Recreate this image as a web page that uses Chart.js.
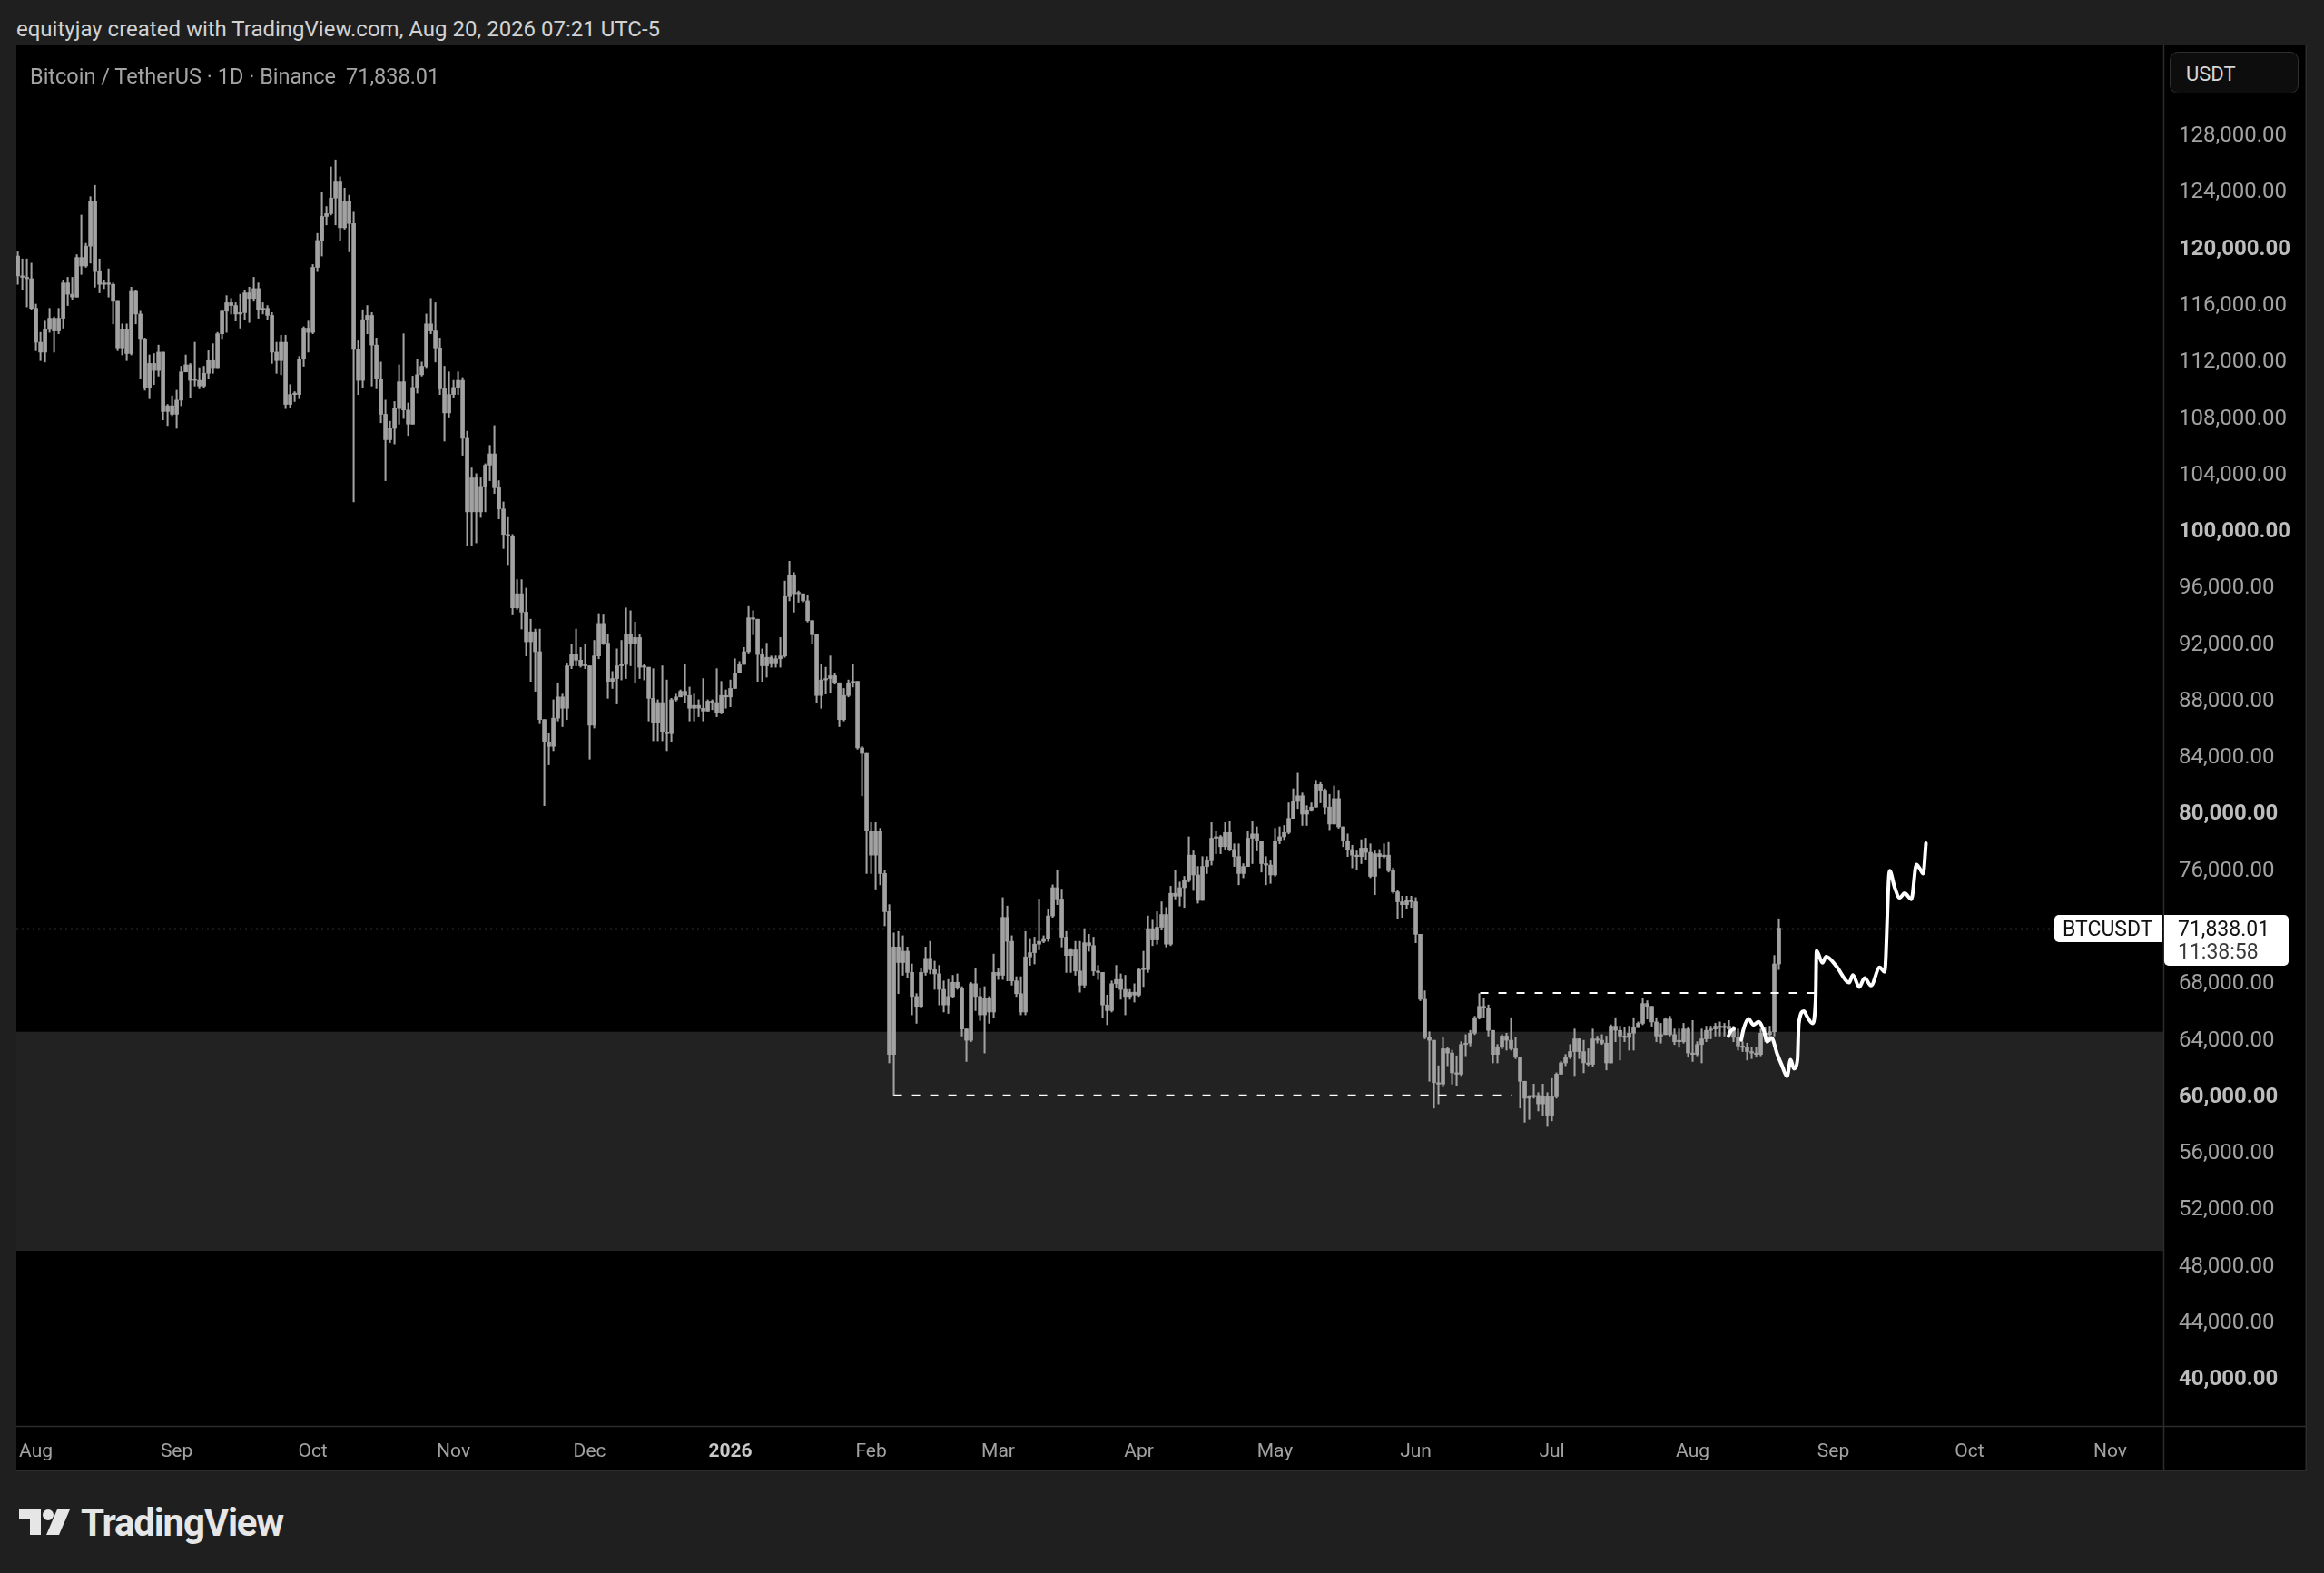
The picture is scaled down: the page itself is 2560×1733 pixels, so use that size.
<!DOCTYPE html>
<html>
<head>
<meta charset="utf-8">
<title>BTCUSDT 1D</title>
<script src="https://cdn.jsdelivr.net/npm/chart.js@4.4.1/dist/chart.umd.min.js"></script>
<style>
  html, body { margin: 0; padding: 0; width: 2560px; height: 1733px; overflow: hidden; background: #1f1f1f; font-family: Roboto, "Noto Sans", sans-serif; }
  #header { position: absolute; left: 18px; top: 18px; font-size: 24px; line-height: 28px; color: #d2d2d2; }
  #panel { position: absolute; left: 18px; top: 50px; width: 2523px; height: 1571px; background: #000; }
  #panel canvas { position: absolute; left: 0; top: 0; }
  #title { position: absolute; left: 33px; top: 70px; font-size: 23.5px; line-height: 28px; color: #a4a4a4; }
  #title .last { margin-left: 11px; }
  #unit { position: absolute; left: 2390px; top: 57px; width: 142px; height: 46px; box-sizing: border-box; border: 1px solid #2f2f2f; border-radius: 9px; background: #0d0d0d; color: #d6d6d6; font-size: 22px; line-height: 48px; padding-left: 17px; }
  #logo { position: absolute; left: 21px; top: 1659px; height: 36px; display: flex; align-items: center; gap: 10px; color: #e6e6e6; font-size: 42px; font-weight: 700; letter-spacing: -1.2px; }
</style>
</head>
<body>
<div id="header">equityjay created with TradingView.com, Aug 20, 2026 07:21 UTC-5</div>
<div id="panel"><canvas id="btc" width="2523" height="1571"></canvas></div>
<div id="title">Bitcoin / TetherUS · 1D · Binance<span class="last" id="lastTxt"></span></div>
<div id="unit">USDT</div>
<div id="logo">
  <svg width="58" height="28" viewBox="0 0 58 28"><path d="M0 0h24v28H12V11H0z" fill="#e6e6e6"/><circle cx="32" cy="6" r="6" fill="#e6e6e6"/><path d="M42 0h14L44 28H30z" fill="#e6e6e6"/></svg>
  <span>TradingView</span>
</div>
<script>
// daily candles, first one on 2025-07-28; prices in thousands of USDT
const firstCandleDate = '2025-07-28';
const firstOpenK = 119.4;
const closeK = [
  118.0, 117.9, 117.8, 115.7, 113.3, 112.6, 114.2, 115.0, 114.1, 115.0,
  117.5, 116.7, 116.5, 119.3, 118.7, 120.1, 123.3, 118.3, 117.4, 117.5,
  117.4, 116.2, 112.9, 114.2, 112.5, 116.9, 115.3, 113.5, 110.1, 111.8,
  111.3, 112.6, 108.4, 108.8, 108.2, 109.2, 111.2, 111.7, 110.6, 110.6,
  110.2, 111.1, 112.0, 111.5, 113.9, 115.5, 116.1, 115.9, 115.3, 115.4,
  116.8, 116.4, 117.1, 115.6, 115.7, 115.2, 112.6, 112.0, 113.3, 108.9,
  109.6, 109.6, 112.1, 114.3, 114.0, 118.6, 120.5, 122.2, 122.4, 123.5,
  124.7, 121.4, 123.3, 121.7, 112.8, 110.6, 114.9, 115.2, 113.1, 110.7,
  108.2, 106.4, 107.2, 108.6, 110.5, 108.5, 107.5, 110.1, 111.0, 111.6,
  114.6, 114.1, 112.9, 110.0, 108.3, 109.6, 110.1, 110.6, 106.5, 101.3,
  103.7, 101.3, 103.1, 104.6, 105.4, 103.0, 101.5, 99.7, 99.6, 94.5,
  95.5, 94.2, 92.1, 92.8, 91.4, 86.6, 85.0, 84.7, 86.7, 88.2,
  87.4, 90.4, 91.2, 90.8, 90.4, 90.4, 86.2, 91.1, 93.4, 92.0,
  89.3, 89.5, 90.4, 90.5, 92.6, 92.0, 92.4, 90.3, 90.3, 88.1,
  86.4, 87.8, 85.7, 85.6, 88.0, 88.2, 88.6, 88.3, 87.4, 87.6,
  87.4, 87.2, 87.9, 87.8, 87.1, 88.3, 88.2, 88.8, 89.9, 90.5,
  91.4, 93.8, 93.7, 91.2, 90.4, 91.0, 90.6, 90.9, 91.1, 95.3,
  96.8, 95.5, 95.5, 95.0, 93.6, 92.6, 88.3, 89.4, 89.5, 89.7,
  89.2, 86.6, 88.3, 89.2, 89.3, 84.6, 84.2, 78.7, 77.0, 78.7,
  75.7, 73.0, 62.9, 70.5, 69.4, 70.2, 68.7, 67.0, 66.3, 68.7,
  69.7, 68.9, 68.6, 67.5, 66.4, 67.0, 68.0, 67.6, 64.7, 63.9,
  67.9, 67.0, 65.7, 66.9, 65.9, 68.7, 68.5, 72.6, 70.9, 68.1,
  67.2, 65.9, 69.8, 70.1, 70.7, 70.9, 71.1, 72.7, 74.7, 73.9,
  71.2, 69.9, 70.3, 68.8, 67.8, 70.8, 70.6, 68.8, 68.7, 66.4,
  66.0, 67.9, 68.2, 67.5, 67.0, 67.3, 67.1, 68.9, 68.9, 71.8,
  71.0, 71.9, 72.8, 70.7, 74.3, 74.1, 74.7, 75.2, 77.0, 75.6,
  73.8, 76.2, 76.6, 78.2, 78.3, 77.6, 78.6, 77.4, 76.9, 75.7,
  76.2, 78.2, 78.5, 78.0, 76.4, 76.3, 75.6, 78.0, 78.3, 78.6,
  79.6, 80.8, 81.2, 79.9, 80.2, 80.4, 82.0, 81.6, 80.4, 79.2,
  81.0, 79.0, 78.0, 77.4, 77.0, 76.9, 77.5, 77.2, 75.5, 77.1,
  76.9, 77.0, 75.9, 74.4, 73.7, 73.5, 73.8, 73.7, 71.4, 66.8,
  64.1, 63.9, 60.9, 60.8, 63.3, 63.0, 61.6, 61.5, 63.6, 63.7,
  64.4, 65.5, 66.3, 66.2, 64.6, 62.9, 63.4, 64.2, 63.9, 63.3,
  62.7, 61.0, 59.8, 59.9, 60.0, 59.4, 59.9, 58.6, 59.9, 61.5,
  62.3, 62.7, 63.1, 64.0, 63.1, 62.3, 62.2, 64.0, 63.9, 63.7,
  62.3, 64.9, 64.6, 64.2, 64.1, 64.4, 64.8, 65.1, 66.5, 66.3,
  65.2, 64.2, 64.3, 65.4, 64.3, 63.8, 63.8, 64.7, 63.0, 62.9,
  63.6, 64.0, 64.6, 64.7, 64.9, 64.8, 64.9, 64.7, 64.1, 63.5,
  63.4, 63.1, 63.0, 62.9, 64.4, 64.3, 64.5, 69.3, 71.83801
];
const highK = [
  119.7, 119.2, 119.2, 118.9, 116.0, 114.0, 114.8, 115.7, 115.1, 115.7,
  117.7, 117.9, 117.9, 119.5, 122.3, 120.3, 123.6, 124.4, 119.2, 117.7,
  118.5, 117.5, 116.0, 114.6, 114.6, 117.2, 117.0, 115.5, 113.6, 112.4,
  112.5, 113.1, 112.6, 108.9, 109.5, 109.9, 111.6, 112.4, 111.8, 113.3,
  111.5, 111.6, 112.7, 113.2, 114.0, 115.6, 116.6, 116.4, 116.1, 116.7,
  117.0, 117.2, 117.9, 117.5, 116.1, 115.9, 115.4, 113.3, 113.8, 113.8,
  110.3, 109.8, 112.3, 114.4, 114.8, 118.8, 121.0, 123.9, 122.9, 125.7,
  126.2, 125.0, 124.2, 123.7, 122.5, 113.4, 115.6, 115.9, 115.4, 113.6,
  111.9, 109.2, 107.7, 109.1, 111.7, 113.9, 109.0, 110.9, 112.1, 111.9,
  115.3, 116.4, 116.1, 113.6, 111.6, 111.2, 110.6, 111.2, 110.8, 107.0,
  104.4, 104.0, 103.7, 104.7, 106.0, 107.4, 103.5, 102.0, 100.9, 99.7,
  96.5, 96.5, 95.9, 93.7, 93.0, 93.0, 86.6, 85.6, 88.0, 89.2,
  88.4, 90.6, 91.9, 93.0, 91.7, 91.9, 90.4, 92.2, 94.1, 94.0,
  92.6, 90.0, 91.6, 92.2, 94.5, 94.3, 93.5, 92.6, 90.5, 90.3,
  90.2, 88.0, 90.4, 89.4, 88.1, 88.4, 88.7, 90.5, 88.9, 88.4,
  88.0, 89.5, 88.0, 88.0, 90.2, 89.3, 88.7, 89.4, 90.9, 90.7,
  91.7, 94.6, 94.3, 93.7, 91.6, 92.0, 91.1, 91.1, 92.4, 96.4,
  97.8, 97.0, 95.7, 95.5, 95.4, 93.6, 92.6, 90.5, 90.3, 91.1,
  89.9, 89.2, 88.8, 89.4, 90.5, 89.3, 84.7, 84.2, 79.3, 79.3,
  78.9, 75.9, 73.5, 71.5, 71.6, 71.3, 70.5, 69.3, 67.2, 69.0,
  70.5, 70.9, 69.5, 69.2, 68.1, 68.2, 68.5, 68.6, 67.7, 64.7,
  68.0, 69.0, 67.6, 67.7, 67.0, 70.0, 69.0, 74.0, 73.4, 71.3,
  68.4, 68.4, 71.6, 71.1, 71.2, 73.9, 71.3, 73.2, 74.9, 75.9,
  74.6, 71.6, 70.4, 70.9, 70.9, 71.8, 71.4, 71.2, 69.2, 68.7,
  67.1, 68.1, 69.2, 68.6, 68.5, 67.5, 67.9, 69.0, 70.2, 72.7,
  72.4, 73.0, 73.7, 73.3, 74.8, 75.9, 75.1, 75.5, 78.3, 77.3,
  76.2, 76.9, 76.9, 79.3, 78.7, 78.4, 79.3, 79.4, 77.8, 77.8,
  76.4, 78.7, 79.4, 79.0, 77.8, 76.9, 76.6, 78.9, 79.0, 79.1,
  80.7, 81.7, 82.8, 81.4, 80.5, 80.7, 82.3, 82.2, 81.7, 81.3,
  81.9, 81.6, 79.0, 78.5, 77.7, 77.3, 78.1, 78.2, 77.8, 77.3,
  77.4, 77.8, 77.9, 76.1, 74.5, 74.1, 74.1, 74.1, 74.0, 71.4,
  67.4, 64.5, 63.9, 62.1, 64.1, 63.4, 63.2, 62.8, 63.8, 64.3,
  64.6, 65.6, 67.2, 66.9, 66.4, 64.6, 63.6, 64.3, 64.4, 65.5,
  64.1, 62.7, 61.0, 60.0, 60.8, 60.2, 60.8, 60.2, 61.2, 61.6,
  62.4, 62.9, 63.6, 64.7, 64.0, 63.9, 63.3, 64.7, 64.2, 64.3,
  64.2, 65.0, 65.5, 64.9, 64.8, 64.9, 65.5, 65.2, 66.9, 66.7,
  66.3, 65.5, 65.1, 65.5, 65.6, 64.7, 64.7, 65.1, 64.8, 65.3,
  63.8, 64.7, 64.9, 64.9, 65.1, 65.2, 65.1, 65.3, 64.9, 64.7,
  63.8, 63.7, 63.4, 63.4, 64.7, 64.8, 64.9, 69.9, 72.5
];
const lowK = [
  117.4, 117.0, 115.8, 115.6, 112.7, 112.0, 111.9, 114.0, 112.6, 113.9,
  114.3, 115.9, 116.3, 116.5, 118.1, 118.6, 118.9, 117.2, 116.8, 117.1,
  116.5, 114.6, 112.7, 112.4, 112.0, 112.4, 114.6, 110.7, 109.9, 109.3,
  110.3, 110.9, 107.8, 107.4, 108.1, 107.2, 108.8, 111.2, 109.4, 110.2,
  110.0, 110.1, 110.7, 111.1, 111.6, 113.5, 114.0, 115.3, 114.8, 114.3,
  114.9, 114.7, 116.2, 115.0, 115.3, 114.9, 111.8, 111.1, 111.0, 108.6,
  108.7, 109.1, 109.3, 111.6, 112.6, 113.9, 118.3, 119.4, 121.6, 122.3,
  121.6, 120.5, 121.3, 119.7, 102.0, 109.6, 110.1, 113.9, 110.2, 110.0,
  107.6, 103.5, 106.2, 106.1, 107.5, 107.9, 106.7, 107.5, 109.7, 110.9,
  111.5, 113.9, 111.9, 109.6, 106.3, 108.0, 109.4, 109.6, 105.3, 98.9,
  98.9, 99.1, 100.9, 101.3, 103.5, 102.6, 100.8, 98.7, 97.5, 94.0,
  94.4, 93.0, 91.1, 89.3, 88.6, 86.3, 80.5, 83.4, 84.4, 86.5,
  86.1, 86.6, 90.2, 90.4, 90.3, 90.2, 83.8, 86.0, 90.9, 91.9,
  88.1, 88.8, 87.7, 89.4, 89.5, 90.4, 89.2, 89.5, 89.4, 86.5,
  85.1, 85.1, 85.1, 84.4, 85.0, 87.9, 88.2, 87.8, 86.5, 86.5,
  86.8, 86.5, 87.3, 87.3, 86.8, 87.0, 87.4, 87.5, 88.8, 89.9,
  90.5, 91.3, 92.6, 89.3, 89.3, 89.6, 90.3, 90.3, 90.3, 91.0,
  95.0, 94.2, 94.9, 94.9, 93.5, 92.0, 87.8, 87.4, 88.4, 88.5,
  89.1, 86.1, 86.5, 88.2, 88.9, 84.5, 81.2, 75.7, 75.7, 74.6,
  74.9, 72.0, 62.3, 60.0, 67.2, 68.5, 68.3, 65.7, 65.1, 66.2,
  68.5, 68.6, 67.5, 66.4, 65.9, 65.8, 66.9, 67.5, 64.2, 62.4,
  63.8, 66.0, 65.3, 63.0, 65.1, 65.5, 68.2, 68.2, 68.1, 67.8,
  67.0, 65.7, 65.7, 69.2, 69.3, 70.3, 70.8, 70.9, 72.6, 73.5,
  70.5, 68.7, 68.7, 68.5, 67.3, 67.6, 70.2, 68.5, 68.2, 65.5,
  65.0, 65.9, 67.6, 66.8, 65.7, 66.8, 66.6, 67.0, 67.7, 68.7,
  70.6, 70.7, 71.7, 70.5, 70.6, 73.9, 73.4, 73.3, 75.1, 74.5,
  73.6, 73.8, 75.7, 76.3, 77.1, 77.1, 77.4, 77.3, 76.2, 74.9,
  75.4, 76.2, 76.4, 77.3, 75.8, 74.9, 75.0, 75.5, 77.8, 78.1,
  78.5, 79.7, 80.3, 79.1, 79.1, 80.1, 80.7, 80.7, 79.9, 78.8,
  79.2, 78.9, 77.6, 76.9, 76.1, 76.0, 76.4, 76.7, 75.4, 74.2,
  76.1, 76.8, 75.8, 74.3, 72.5, 72.6, 73.2, 73.3, 70.8, 66.7,
  64.0, 61.0, 59.1, 59.4, 60.6, 62.1, 60.8, 60.7, 61.4, 62.8,
  63.5, 64.3, 65.4, 65.5, 64.2, 62.3, 62.3, 63.3, 63.2, 63.2,
  62.6, 59.1, 58.1, 58.3, 59.8, 58.9, 58.6, 57.8, 58.2, 59.8,
  61.5, 62.1, 62.6, 61.4, 62.6, 61.6, 62.1, 62.0, 63.7, 63.6,
  61.8, 62.3, 63.8, 62.5, 63.8, 63.2, 63.2, 64.8, 65.0, 65.4,
  64.9, 63.8, 63.7, 64.4, 64.2, 63.6, 63.4, 63.7, 62.7, 62.4,
  62.8, 62.3, 63.8, 64.0, 64.2, 64.2, 64.2, 64.2, 63.8, 63.2,
  63.1, 62.5, 62.6, 62.7, 62.8, 63.8, 63.8, 64.2, 68.9
];

// hand-drawn projection (days counted from 2025-08-01, prices in thousands)
const forecastDay = [375.7, 376.2, 377.3, 378.4, 379.5, 380.7, 381.4, 382.4, 383.6, 384.7,
  385.8, 386.6, 387.3, 388.1, 388.4, 389.5, 390.3, 391.4, 392.1, 392.3,
  393.6, 394.4, 396.6, 399.5, 400.3, 401.7, 402.9, 404.3, 406.2, 407.3,
  408.4, 409.5, 410.6, 411.7, 413.2, 414.3, 415.1, 415.8, 416.4];
const forecastPriceK = [63.92, 64.67, 65.42, 64.99, 65.20, 64.56, 63.81, 64.07, 62.96, 62.10,
  61.35, 62.53, 61.89, 62.53, 65.10, 65.96, 65.53, 65.10, 66.81, 70.24,
  69.38, 69.81, 69.17, 67.99, 68.52, 67.67, 68.31, 67.77, 69.06, 68.74,
  75.91, 74.73, 73.98, 74.31, 73.88, 76.34, 76.02, 75.70, 77.84];
const hookDay = [372.9, 373.4, 374.1];
const hookPriceK = [64.20, 64.55, 64.70];

// dashed range lines
const levelPrice = [60000, 67250];
const levelFromDay = [189, 318.2];
const levelToDay = [325.3, 393.2];

// shaded demand zone
const zoneTop = 64500;
const zoneBottom = 49000;

const monthTickDates = ['2025-08-01', '2025-09-01', '2025-10-01', '2025-11-01', '2025-12-01', '2026-01-01',
  '2026-02-01', '2026-03-01', '2026-04-01', '2026-05-01', '2026-06-01', '2026-07-01',
  '2026-08-01', '2026-09-01', '2026-10-01', '2026-11-01'];
const monthTickLabels = ['Aug', 'Sep', 'Oct', 'Nov', 'Dec', '2026', 'Feb', 'Mar', 'Apr', 'May', 'Jun', 'Jul',
  'Aug', 'Sep', 'Oct', 'Nov'];
const priceTicks = [40000, 44000, 48000, 52000, 56000, 60000, 64000, 68000, 72000, 76000, 80000, 84000,
  88000, 92000, 96000, 100000, 104000, 108000, 112000, 116000, 120000, 124000, 128000];
const countdown = '11:38:58';

const DAY = 86400000;
const origin = Date.UTC(2025, 7, 1);
function dayOf(s) {
  const [y, m, d] = s.split('-').map(Number);
  return (Date.UTC(y, m - 1, d) - origin) / DAY;
}
const fmt = v => v.toLocaleString('en-US', {minimumFractionDigits: 2, maximumFractionDigits: 2});

const x0 = dayOf(firstCandleDate);
const wicks = [], bodies = [];
closeK.forEach((c, i) => {
  const o = i === 0 ? firstOpenK : closeK[i - 1];
  const h = Math.max(highK[i], o, c), l = Math.min(lowK[i], o, c);
  wicks.push({x: x0 + i, y: [l * 1000, h * 1000]});
  bodies.push({x: x0 + i, y: [o * 1000, c * 1000]});
});
const lastPrice = closeK[closeK.length - 1] * 1000;
document.getElementById('lastTxt').textContent = fmt(lastPrice);

const tickDays = monthTickDates.map(dayOf);
const gray = '#a2a2a2';
const frame = '#2c2c2c';

const paint = {
  id: 'paint',
  beforeDraw(chart) {
    const {ctx, width, height} = chart;
    ctx.save();
    ctx.fillStyle = '#000';
    ctx.fillRect(0, 0, width, height);
    ctx.restore();
  },
  beforeDatasetsDraw(chart) {
    const {ctx, chartArea: a, scales: {y}} = chart;
    const t = y.getPixelForValue(zoneTop), b = y.getPixelForValue(zoneBottom);
    ctx.save();
    ctx.fillStyle = '#222222';
    ctx.fillRect(a.left, t, a.right - a.left, b - t);
    const py = Math.round(y.getPixelForValue(lastPrice)) + 0.5;
    ctx.strokeStyle = '#5a5a5a';
    ctx.lineWidth = 1.5;
    ctx.setLineDash([2, 4]);
    ctx.beginPath();
    ctx.moveTo(a.left, py);
    ctx.lineTo(a.right, py);
    ctx.stroke();
    ctx.restore();
  },
  afterDraw(chart) {
    const {ctx, chartArea: a, scales: {y}, width, height} = chart;
    ctx.save();
    // pane separators and outer frame
    ctx.strokeStyle = frame;
    ctx.lineWidth = 1.5;
    ctx.beginPath();
    ctx.moveTo(a.right + 0.5, 0); ctx.lineTo(a.right + 0.5, height);
    ctx.moveTo(0, a.bottom + 0.5); ctx.lineTo(width, a.bottom + 0.5);
    ctx.moveTo(width - 0.75, 0); ctx.lineTo(width - 0.75, height - 0.75); ctx.lineTo(0, height - 0.75);
    ctx.stroke();

    const py = Math.round(y.getPixelForValue(lastPrice));
    ctx.fillStyle = '#ffffff';
    ctx.beginPath();
    ctx.roundRect(a.right - 120, py - 15, 119, 30, [5, 0, 0, 5]);
    ctx.fill();
    ctx.beginPath();
    ctx.roundRect(a.right + 1, py - 15, 137, 56, [0, 5, 5, 5]);
    ctx.fill();
    ctx.fillStyle = '#111111';
    ctx.font = '23px Roboto, "Noto Sans", sans-serif';
    ctx.textBaseline = 'middle';
    ctx.fillText('BTCUSDT', a.right - 111, py + 2);
    ctx.fillText(fmt(lastPrice), a.right + 16, py + 2);
    ctx.fillStyle = '#3a3a3a';
    ctx.fillText(countdown, a.right + 16, py + 27);
    ctx.restore();
  }
};

const lineStyle = {type: 'line', borderColor: '#ffffff', borderWidth: 4, pointRadius: 0,
  cubicInterpolationMode: 'monotone', borderCapStyle: 'round', borderJoinStyle: 'round', order: 0};

const datasets = [
  {type: 'bar', data: wicks, backgroundColor: gray, barThickness: 1.4, grouped: false, order: 3},
  {type: 'bar', data: bodies, backgroundColor: gray, borderWidth: 0,
    barThickness: 4, minBarLength: 1.5, grouped: false, order: 2},
  Object.assign({data: forecastDay.map((d, i) => ({x: d, y: forecastPriceK[i] * 1000}))}, lineStyle),
  Object.assign({data: hookDay.map((d, i) => ({x: d, y: hookPriceK[i] * 1000}))}, lineStyle)
];
levelPrice.forEach((p, i) => {
  datasets.push({type: 'line', data: [{x: levelFromDay[i], y: p}, {x: levelToDay[i], y: p}],
    borderColor: '#ffffff', borderWidth: 2, borderDash: [9, 11], pointRadius: 0, order: 1});
});

new Chart(document.getElementById('btc'), {
  type: 'bar',
  data: {datasets},
  plugins: [paint],
  options: {
    responsive: false,
    animation: false,
    devicePixelRatio: 1,
    layout: {padding: 0},
    plugins: {legend: {display: false}, tooltip: {enabled: false}},
    scales: {
      x: {
        type: 'linear', min: -4.32, max: 468.7, offset: false, bounds: 'data',
        grid: {display: false, drawTicks: false},
        border: {display: false},
        afterBuildTicks: s => { s.ticks = tickDays.map(v => ({value: v})); },
        afterFit: s => { s.height = 50; s.paddingLeft = 0; s.paddingRight = 0; },
        ticks: {
          autoSkip: false, maxRotation: 0, padding: 16,
          callback: (v, i) => monthTickLabels[i],
          color: c => monthTickLabels[c.index] === '2026' ? '#c9c9c9' : '#a2a2a2',
          font: c => ({family: 'Roboto', size: 21, weight: monthTickLabels[c.index] === '2026' ? 'bold' : 'normal'})
        }
      },
      y: {
        type: 'linear', position: 'right', min: 36607, max: 134307, bounds: 'data',
        grid: {display: false, drawTicks: false},
        border: {display: false},
        afterBuildTicks: s => { s.ticks = priceTicks.map(v => ({value: v})); },
        afterFit: s => { s.width = 158; s.paddingTop = 0; s.paddingBottom = 0; },
        ticks: {
          padding: 17, labelOffset: 2,
          callback: v => fmt(v),
          color: c => c.tick && c.tick.value % 20000 === 0 ? '#bdbdbd' : '#a2a2a2',
          font: c => ({family: 'Roboto', size: 24, weight: c.tick && c.tick.value % 20000 === 0 ? 'bold' : 'normal'})
        }
      }
    }
  }
});
</script>
</body>
</html>
